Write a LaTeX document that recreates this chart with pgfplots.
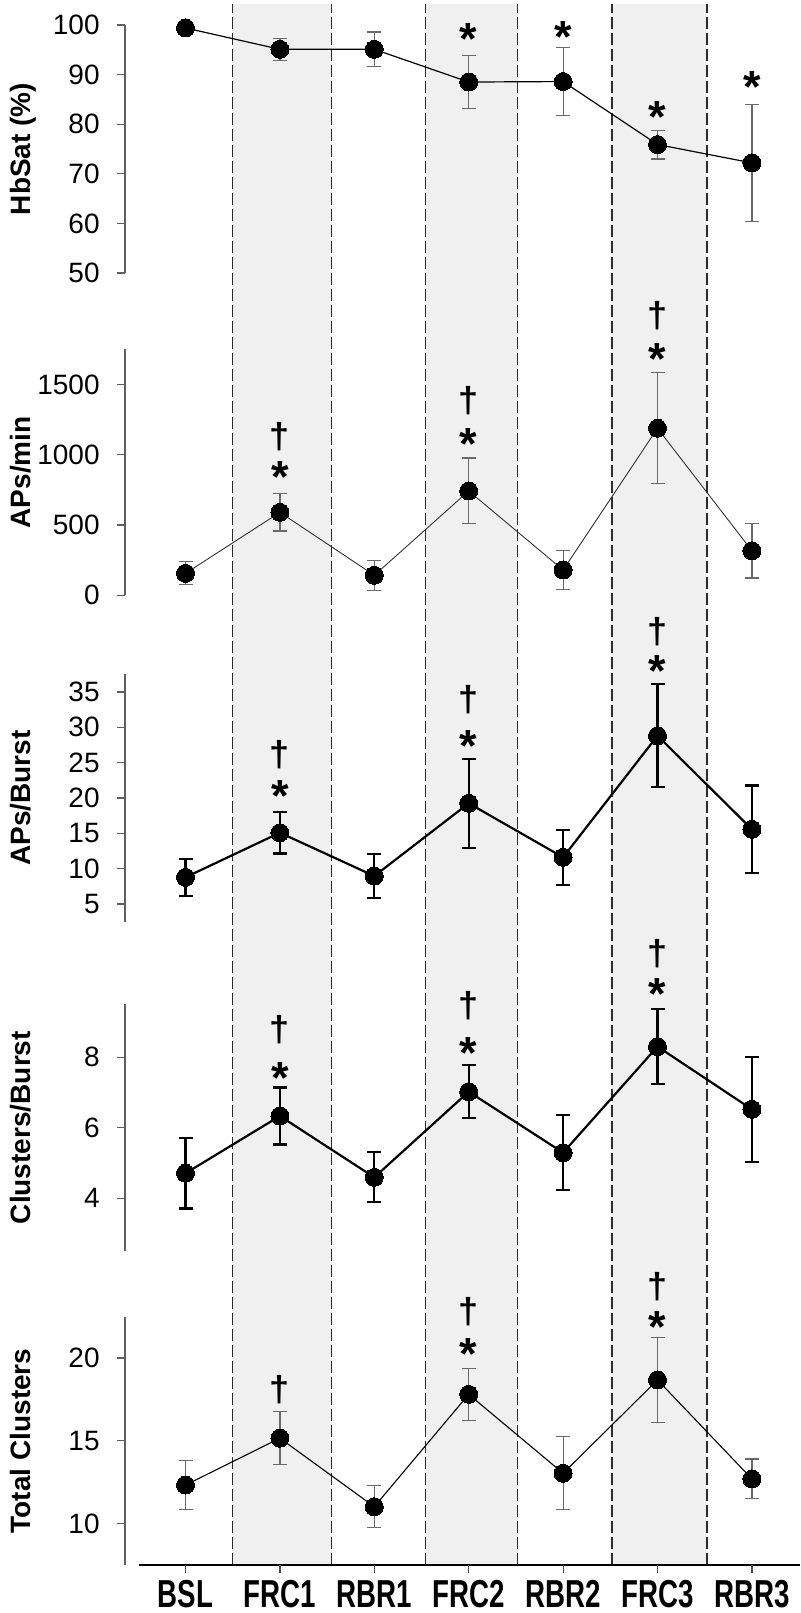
\documentclass[border=0pt]{standalone}
\usepackage{pgfplots}
\pgfplotsset{compat=1.18}
\usepackage{graphicx}
\usepackage{fontspec}
\setmainfont{Liberation Sans}

\definecolor{band}{RGB}{240,240,240}
\definecolor{axgray}{RGB}{95,95,95}
\definecolor{ebgray}{RGB}{105,105,105}
\definecolor{dashc}{RGB}{45,45,45}

\tikzset{
  sig/.style={anchor=base, inner sep=0pt, font=\fontsize{22.5}{24}\selectfont\bfseries, yshift=-12.4pt},
  dag/.style={anchor=base, inner sep=0pt, font=\fontsize{18}{20}\selectfont\bfseries, yshift=-5.5pt},
}
\pgfplotsset{
  panel/.style={
    scale only axis, width=337.5pt, xmin=-0.6409, xmax=6.5095,
    axis y line*=left,
    y axis line style={axgray, line width=0.6pt},
    ytick style={axgray, line width=0.6pt},
    tick align=outside, major tick length=4pt,
    yticklabel style={font=\fontsize{14}{16}\selectfont, inner sep=0pt, anchor=east, xshift=-8.5pt},
    /pgf/number format/assume math mode=true,
    /pgf/number format/1000 sep={},
    ylabel style={font=\fontsize{14}{16}\selectfont\bfseries, at={(axis description cs:-0.1407,0.5)}, anchor=base},
    clip=false, anchor=south west,
  },
  thinline/.style={mark=*, mark size=4.5pt,
    mark options={solid, fill=black, draw=black, line width=0pt},
    error bars/y dir=both, error bars/y explicit,
    error bars/error bar style={ebgray, line width=0.6pt},
    error bars/error mark options={rotate=90, ebgray, line width=0.6pt, mark size=3.5pt}},
  thickline/.style={black, line width=1.1pt, mark=*, mark size=4.5pt,
    mark options={solid, fill=black, draw=black, line width=0pt},
    error bars/y dir=both, error bars/y explicit,
    error bars/error bar style={black, line width=1.1pt},
    error bars/error mark options={rotate=90, black, line width=1.1pt, mark size=3.5pt}},
}

\begin{document}
\begin{tikzpicture}
\useasboundingbox (0,0) rectangle (400pt,806.5pt);

% background bands
\begin{axis}[at={(62.5pt,24pt)}, anchor=south west, scale only axis,
  width=337.5pt, height=780.5pt, xmin=-0.6409, xmax=6.5095, ymin=0, ymax=1, hide axis]
\addplot[fill=band, draw=none] coordinates {(0.498,0) (1.548,0) (1.548,1) (0.498,1)} --cycle;
\addplot[fill=band, draw=none] coordinates {(2.544,0) (3.520,0) (3.520,1) (2.544,1)} --cycle;
\addplot[fill=band, draw=none] coordinates {(4.516,0) (5.523,0) (5.523,1) (4.516,1)} --cycle;
\addplot[dashc, line width=0.7pt, dash pattern=on 6pt off 2pt] coordinates {(0.498,0) (0.498,1)};
\addplot[dashc, line width=0.7pt, dash pattern=on 6pt off 2pt] coordinates {(1.548,0) (1.548,1)};
\addplot[dashc, line width=0.7pt, dash pattern=on 6pt off 2pt] coordinates {(2.544,0) (2.544,1)};
\addplot[dashc, line width=0.7pt, dash pattern=on 6pt off 2pt] coordinates {(3.520,0) (3.520,1)};
\addplot[dashc, line width=0.7pt, dash pattern=on 6pt off 2pt] coordinates {(4.516,0) (4.516,1)};
\addplot[dashc, line width=0.7pt, dash pattern=on 6pt off 2pt] coordinates {(5.523,0) (5.523,1)};
\end{axis}

% Panel 1: HbSat
\begin{axis}[panel, axis x line=none, at={(62.5pt,670pt)}, height=124pt, ymin=50, ymax=100,
  ytick={50,60,...,100}, ylabel={HbSat (\%)}]
\addplot[black, line width=0.6pt, thinline] table[x=x, y=y, y error=e] {
x y e
0 99.4 0
1 95.1 2.2
2 95.1 3.5
3 88.5 5.4
4 88.6 6.8
5 75.9 2.9
6 72.2 11.8
};
\node[sig] at (axis cs:3,99.0) {*};
\node[sig] at (axis cs:4,99.4) {*};
\node[sig] at (axis cs:5,83.3) {*};
\node[sig] at (axis cs:6,89.3) {*};
\end{axis}

% Panel 2: APs/min
\begin{axis}[panel, axis x line=none, at={(62.5pt,508.85pt)}, height=123pt, ymin=0, ymax=1750,
  ytick={0,500,1000,1500}, ylabel={APs/min}]
\addplot[black!80, line width=0.45pt, thinline] table[x=x, y=y, y error=e] {
x y e
0 156 82
1 590 132
2 142 106
3 742 234
4 180 141
5 1188 395
6 317 194
};
\node[dag] at (axis cs:1,1121) {†};
\node[sig] at (axis cs:1,905.6) {*};
\node[dag] at (axis cs:3,1377) {†};
\node[sig] at (axis cs:3,1140) {*};
\node[dag] at (axis cs:5,1982) {†};
\node[sig] at (axis cs:5,1745) {*};
\end{axis}

% Panel 3: APs/Burst
\begin{axis}[panel, axis x line=none, at={(62.5pt,345.65pt)}, height=123.7pt, ymin=2.5, ymax=37.5,
  ytick={5,10,...,35}, ylabel={APs/Burst}]
\addplot[thickline] table[x=x, y=y, y error=e] {
x y e
0 8.78 2.6
1 15.09 2.95
2 8.96 3.07
3 19.25 6.3
4 11.61 3.9
5 28.81 7.27
6 15.57 6.2
};
\node[dag] at (axis cs:1,26.08) {†};
\node[sig] at (axis cs:1,21.6) {*};
\node[dag] at (axis cs:3,33.86) {†};
\node[sig] at (axis cs:3,28.67) {*};
\node[dag] at (axis cs:5,43.48) {†};
\node[sig] at (axis cs:5,39.28) {*};
\end{axis}

% Panel 4: Clusters/Burst
\begin{axis}[panel, axis x line=none, at={(62.5pt,181pt)}, height=123.35pt, ymin=2.5, ymax=9.5,
  ytick={4,6,8}, ylabel={Clusters/Burst}]
\addplot[thickline] table[x=x, y=y, y error=e] {
x y e
0 4.705 1.0
1 6.33 0.81
2 4.59 0.71
3 7.02 0.75
4 5.29 1.06
5 8.30 1.06
6 6.52 1.49
};
\node[dag] at (axis cs:1,8.77) {†};
\node[sig] at (axis cs:1,7.68) {*};
\node[dag] at (axis cs:3,9.43) {†};
\node[sig] at (axis cs:3,8.39) {*};
\node[dag] at (axis cs:5,10.9) {†};
\node[sig] at (axis cs:5,10.05) {*};
\end{axis}

% Panel 5: Total Clusters
\begin{axis}[panel, at={(62.5pt,24pt)}, height=124.15pt, ymin=7.5, ymax=22.5,
  ytick={10,15,20}, ylabel={Total Clusters},
  axis x line*=bottom,
  x axis line style={black, line width=0.65pt, shorten <=7pt},
  xtick={0,1,2,3,4,5,6},
  xticklabels={\scalebox{0.71}[1]{BSL},\scalebox{0.71}[1]{FRC1},\scalebox{0.71}[1]{RBR1},\scalebox{0.71}[1]{FRC2},\scalebox{0.71}[1]{RBR2},\scalebox{0.71}[1]{FRC3},\scalebox{0.71}[1]{RBR3}},
  xtick style={black!75, line width=0.6pt},
  xticklabel style={font=\fontsize{19.5}{20}\selectfont\bfseries, anchor=base, inner sep=0pt, yshift=-17.3pt}]
\addplot[black, line width=0.55pt, thinline] table[x=x, y=y, y error=e] {
x y e
0 12.33 1.5
1 15.16 1.6
2 11.02 1.27
3 17.81 1.57
4 13.04 2.2
5 18.68 2.57
6 12.70 1.2
};
\foreach \k in {0,...,6}{
  \edef\temp{\noexpand\draw[black!70, line width=0.6pt] (axis cs:\k,7.5) -- ([yshift=-3.6pt]axis cs:\k,7.5);}
  \temp
}
\node[dag] at (axis cs:1,18.07) {†};
\node[dag] at (axis cs:3,22.73) {†};
\node[sig] at (axis cs:3,20.79) {*};
\node[dag] at (axis cs:5,24.24) {†};
\node[sig] at (axis cs:5,22.42) {*};
\end{axis}
\end{tikzpicture}
\end{document}
